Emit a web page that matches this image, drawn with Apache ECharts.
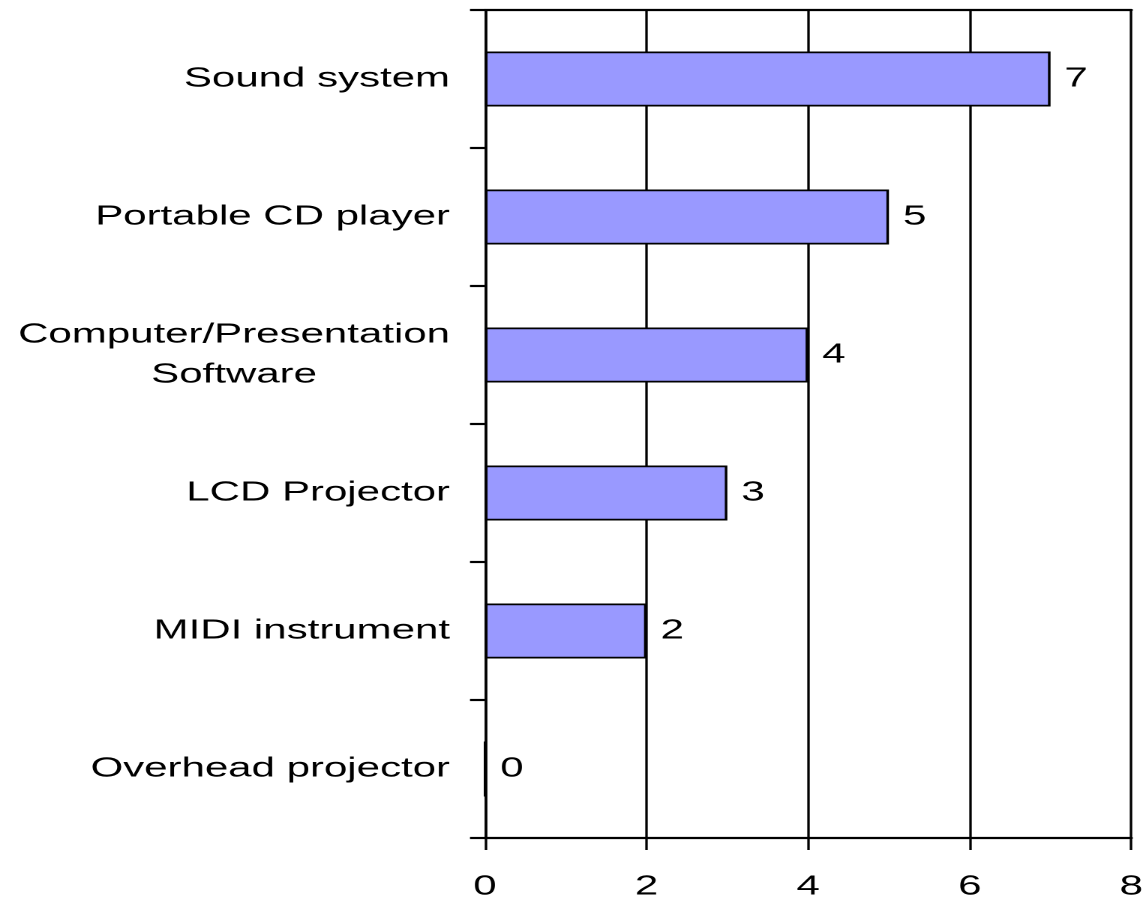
<!DOCTYPE html>
<html>
<head>
<meta charset="utf-8">
<script src="https://cdn.jsdelivr.net/npm/echarts@6/dist/echarts.min.js"></script>
<style>
html,body{margin:0;padding:0;background:#fff;overflow:hidden;}
#wrap{width:1147px;height:901px;overflow:hidden;position:relative;}
#chart{position:absolute;left:0;top:0;height:901px;transform-origin:0 0;}
</style>
</head>
<body>
<div id="wrap"><div id="chart"></div></div>
<script>
// Data
const categories = ["Sound system", "Portable CD player", "Computer/Presentation\nSoftware", "LCD Projector", "MIDI instrument", "Overhead projector"];
const values = [7, 5, 4, 3, 2, 0];
const xTicks = { min: 0, max: 8, interval: 2 };

// Text in the reference is stretched horizontally; render narrow and stretch.
const SX = 1.5;
const el = document.getElementById('chart');
el.style.width = (1147 / SX) + 'px';
el.style.transform = 'scaleX(' + SX + ')';

const font = '"Liberation Sans", Arial, sans-serif';
const vLW = 2.5 / SX; // vertical line widths after stretch
const hLW = 2.2;      // horizontal line widths

const chart = echarts.init(el, null, { renderer: 'canvas', devicePixelRatio: 2 });
chart.setOption({
  animation: false,
  backgroundColor: '#fff',
  grid: { left: 485 / SX, right: 10 / SX, top: 10, bottom: 63, containLabel: false },
  xAxis: [{
    type: 'value', min: xTicks.min, max: xTicks.max, interval: xTicks.interval,
    position: 'bottom',
    axisLine: { show: true, lineStyle: { color: '#000', width: hLW } },
    axisTick: { show: true, length: 12, lineStyle: { color: '#000', width: vLW } },
    axisLabel: { color: '#000', fontSize: 28, fontFamily: font, margin: 35 },
    splitLine: { show: true, lineStyle: { color: '#000', width: vLW } }
  }, {
    type: 'value', min: xTicks.min, max: xTicks.max, interval: xTicks.interval,
    position: 'top',
    axisLine: { show: true, onZero: false, lineStyle: { color: '#000', width: hLW } },
    axisTick: { show: false }, axisLabel: { show: false }, splitLine: { show: false }
  }],
  yAxis: {
    type: 'category', data: categories, inverse: true,
    axisLine: { show: true, lineStyle: { color: '#000', width: vLW } },
    axisTick: { show: true, length: 15 / SX, lineStyle: { color: '#000', width: hLW } },
    axisLabel: {
      color: '#000', fontSize: 28, fontFamily: font, margin: 35 / SX, lineHeight: 40, align: 'right',
      formatter: function (v) {
        return v.split('\n').map(function (s) { return '{c|' + s + '}'; }).join('\n');
      },
      rich: { c: { align: 'center', fontSize: 28, fontFamily: font, color: '#000', lineHeight: 40 } }
    },
    splitLine: { show: false }
  },
  series: [{
    type: 'bar', data: values, barWidth: 55, xAxisIndex: 0,
    itemStyle: { color: '#9999FF', borderColor: '#000', borderWidth: 1.7 },
    label: { show: true, position: 'right', distance: 14 / SX, color: '#000', fontSize: 28, fontFamily: font }
  }]
});
</script>
</body>
</html>
